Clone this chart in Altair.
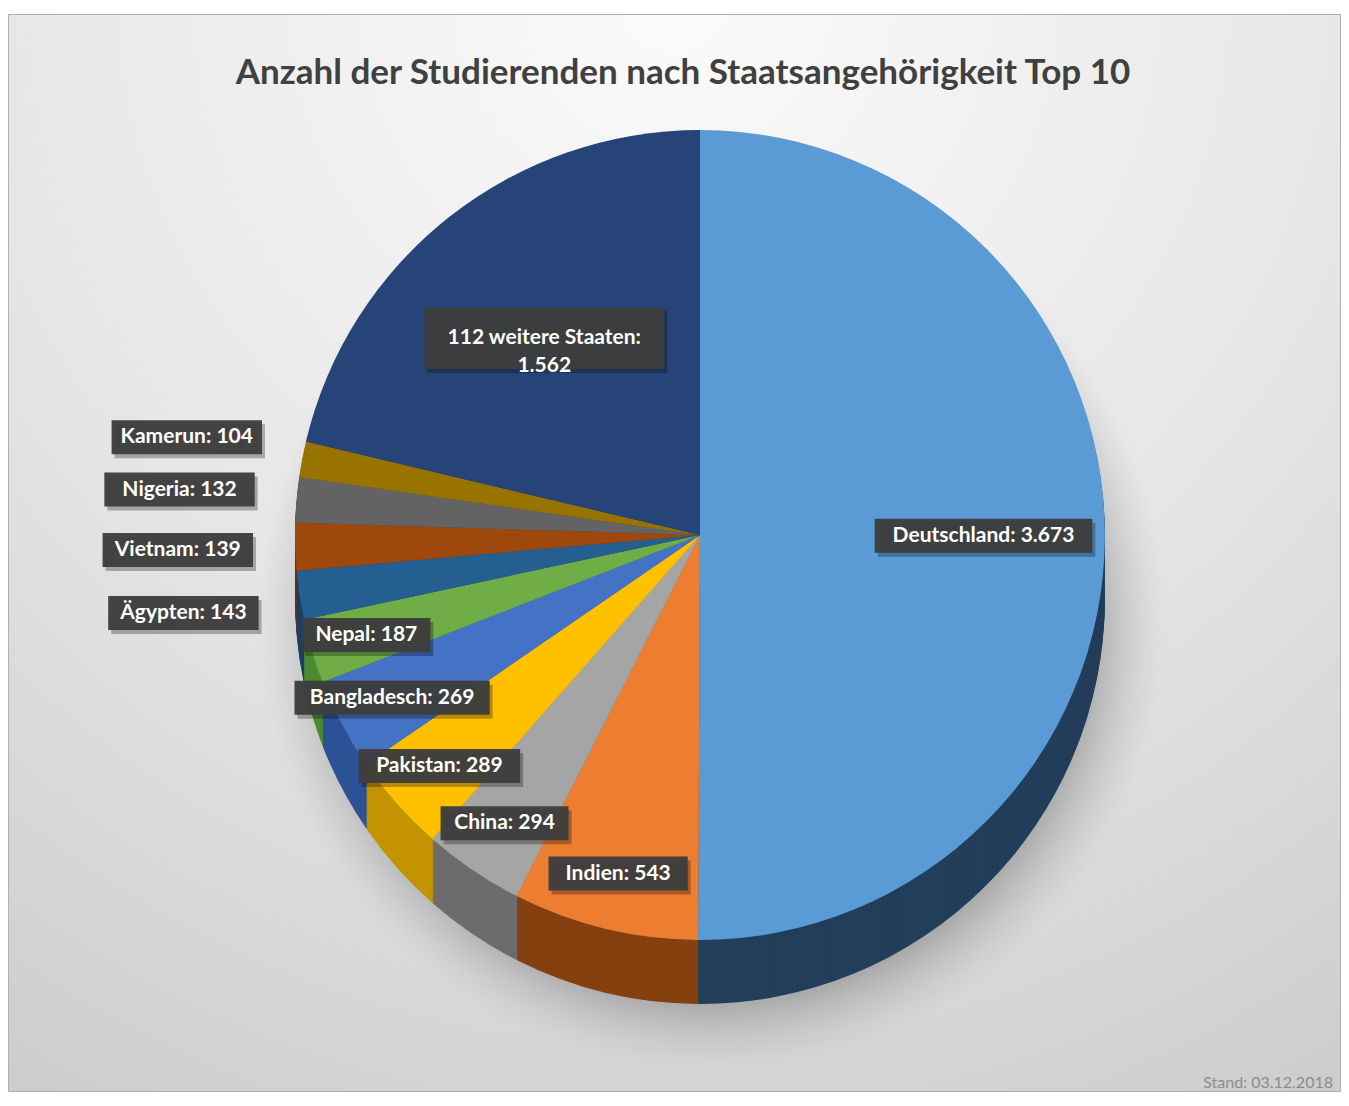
import altair as alt
import pandas as pd

# ---- data ----
countries = ["Deutschland", "Indien", "China", "Pakistan", "Bangladesch", "Nepal",
             "Ägypten", "Vietnam", "Nigeria", "Kamerun", "112 weitere Staaten"]
students = [3673, 543, 294, 289, 269, 187, 143, 139, 132, 104, 1562]
top_colors = ["#5B9BD5", "#ED7D31", "#A5A5A5", "#FFC000", "#4472C4", "#70AD47",
              "#255E91", "#9E480E", "#636363", "#997300", "#264478"]
side_colors = ["#233e5a", "#85400f", "#6c6c6c", "#c39300", "#2d5296", "#4f8a33",
               "#1a4266", "#6e320a", "#454545", "#6b5000", "#1a2f54"]
title_text = "Anzahl der Studierenden nach Staatsangehörigkeit Top 10"
note_text = "Stand: 03.12.2018"


def de_fmt(v):
    return f"{v:,}".replace(",", ".")


labels = []
for c, v in zip(countries, students):
    if c.startswith("112"):
        labels.append(f"{c}:\n{de_fmt(v)}")
    else:
        labels.append(f"{c}: {de_fmt(v)}")

df = pd.DataFrame({"idx": list(range(len(countries))), "country": countries,
                   "value": students, "label": labels})
one = pd.DataFrame({"k": [0]})

# ---- layout ----
W, H = 1333, 1078
CX, CY, R = 692, 521, 405
DEPTH = 64
FONT = "Lato"

bg = alt.Chart(one).mark_rect(
    fill=alt.RadialGradient(
        gradient="radial",
        stops=[alt.GradientStop(color="#fbfbfb", offset=0),
               alt.GradientStop(color="#e6e6e6", offset=0.55),
               alt.GradientStop(color="#cdcdcd", offset=1)],
        x1=0.5, y1=0.08, r1=0, x2=0.5, y2=0.08, r2=0.95),
    stroke="#b0b0b0", strokeWidth=1,
).encode(x=alt.value(0.5), x2=alt.value(W - 0.5), y=alt.value(0.5), y2=alt.value(H - 0.5))

shadow = alt.Chart(one).mark_arc(
    radius=R + 50, theta=0, theta2=6.2832,
    fill=alt.RadialGradient(
        gradient="radial",
        stops=[alt.GradientStop(color="rgba(100,100,100,0.6)", offset=0),
               alt.GradientStop(color="rgba(120,120,120,0.5)", offset=0.84),
               alt.GradientStop(color="rgba(180,180,180,0)", offset=1)],
        x1=0.5, y1=0.5, r1=0, x2=0.5, y2=0.5, r2=0.5),
).encode(x=alt.value(CX + 12), y=alt.value(CY + DEPTH + 20))

sides = []
for off in range(DEPTH, 0, -2):
    sides.append(
        alt.Chart(df).mark_arc(radius=R).encode(
            theta=alt.Theta("value:Q", stack=True),
            order=alt.Order("idx:Q"),
            fill=alt.Fill("country:N", scale=alt.Scale(domain=countries, range=side_colors), legend=None),
            x=alt.value(CX), y=alt.value(CY + off),
        )
    )

top = alt.Chart(df).mark_arc(radius=R).encode(
    theta=alt.Theta("value:Q", stack=True),
    order=alt.Order("idx:Q"),
    color=alt.Color("country:N", scale=alt.Scale(domain=countries, range=top_colors), legend=None),
    x=alt.value(CX), y=alt.value(CY),
)

lab = alt.Chart(df).transform_window(
    cum="sum(value)", sort=[alt.SortField("idx")], frame=[None, 0]
).transform_joinaggregate(
    total="sum(value)"
).transform_calculate(
    mid="2*PI*(datum.cum - datum.value/2)/datum.total",
    share="datum.value/datum.total",
).transform_calculate(
    rf="datum.share > 0.3 ? 0.7 : datum.share > 0.15 ? 0.62 : datum.share > 0.022 ? 0.86 : 1.29",
).transform_calculate(
    lx=f"{CX} + {R}*datum.rf*sin(datum.mid)",
    ly=f"{CY} - {R}*datum.rf*cos(datum.mid)",
    nl="indexof(datum.label, '\\n') >= 0 ? 2 : 1",
).transform_calculate(
    mlen="datum.nl == 2 ? max(indexof(datum.label, '\\n'), length(datum.label) - indexof(datum.label, '\\n') - 1) : length(datum.label)",
).transform_calculate(
    bw="datum.mlen*11.2 + 16",
    bh="datum.nl*28 + 6",
).transform_calculate(
    bx1="datum.lx - datum.bw/2", bx2="datum.lx + datum.bw/2",
    by1="datum.ly - datum.bh/2", by2="datum.ly + datum.bh/2",
)

box_enc = dict(
    x=alt.X("bx1:Q", scale=None, axis=None), x2="bx2:Q",
    y=alt.Y("by1:Q", scale=None, axis=None), y2="by2:Q",
)
box_shadow = lab.mark_rect(color="black", opacity=0.28, xOffset=3, x2Offset=3,
                           yOffset=4, y2Offset=4).encode(**box_enc)
box = lab.mark_rect(color="#3d3d3d", opacity=0.96).encode(**box_enc)
text = lab.mark_text(font=FONT, fontWeight="bold", fontSize=21, color="white",
                     lineBreak="\n", lineHeight=28, align="center", baseline="middle").encode(
    x=alt.X("lx:Q", scale=None, axis=None),
    y=alt.Y("ly:Q", scale=None, axis=None),
    text="label:N",
)

title = alt.Chart(one).mark_text(
    text=title_text, font=FONT, fontWeight="bold", fontSize=35, color="#404040",
    align="center", baseline="alphabetic",
).encode(x=alt.value(675), y=alt.value(70))

note = alt.Chart(one).mark_text(
    text=note_text, font=FONT, fontSize=16, color="#8c8c8c",
    align="right", baseline="alphabetic",
).encode(x=alt.value(W - 8), y=alt.value(H - 4))

chart = alt.layer(bg, shadow, *sides, top, box_shadow, box, text, title, note).properties(
    width=W, height=H,
    padding={"top": 6, "left": 0, "right": 0, "bottom": 0},
    background="white",
).configure_view(stroke=None)

chart.save("out.html", embed_options={"renderer": "svg", "actions": False})
